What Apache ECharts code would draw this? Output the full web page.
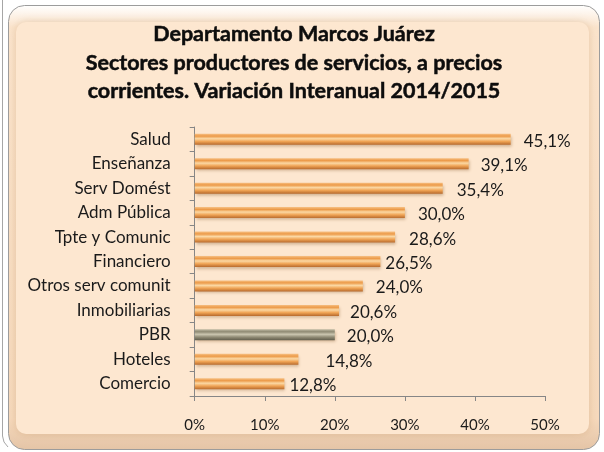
<!DOCTYPE html>
<html>
<head>
<meta charset="utf-8">
<script src="https://cdn.jsdelivr.net/npm/echarts@6/dist/echarts.min.js"></script>
<style>
html,body{margin:0;padding:0;background:#ffffff;}
#chart{width:604px;height:452px;}
</style>
</head>
<body>
<div id="chart"></div>
<script>
// ---- data ----
var titleLines = [
  'Departamento Marcos Juárez',
  'Sectores productores de servicios, a precios',
  'corrientes. Variación Interanual 2014/2015'
];
var categories = ['Salud', 'Enseñanza', 'Serv Domést', 'Adm Pública', 'Tpte y Comunic',
  'Financiero', 'Otros serv comunit', 'Inmobiliarias', 'PBR', 'Hoteles', 'Comercio'];
var values = [45.1, 39.1, 35.4, 30.0, 28.6, 26.5, 24.0, 20.6, 20.0, 14.8, 12.8];
var highlightCategory = 'PBR';
var xTicks = [0, 10, 20, 30, 40, 50];

// ---- styling (not data) ----
var labelGap = [13, 12, 14, 13, 14, 5, 13, 11, 12, 27, 5];
var FONT = 'Lato';

var orangeFill = new echarts.graphic.LinearGradient(0, 0, 0, 1, [
  {offset: 0, color: '#f7c083'},
  {offset: 0.22, color: '#ec9a48'},
  {offset: 0.45, color: '#fbd8a4'},
  {offset: 0.7, color: '#f0a455'},
  {offset: 1, color: '#b86b2e'}
]);
var greyFill = new echarts.graphic.LinearGradient(0, 0, 0, 1, [
  {offset: 0, color: '#bdb8a2'},
  {offset: 0.22, color: '#8f8a73'},
  {offset: 0.45, color: '#cbc6b0'},
  {offset: 0.7, color: '#918c76'},
  {offset: 1, color: '#5f5b4a'}
]);

var seriesData = categories.map(function (c, i) {
  return {
    value: values[i],
    itemStyle: {color: c === highlightCategory ? greyFill : orangeFill},
    label: {distance: labelGap[i]}
  };
});

var chart = echarts.init(document.getElementById('chart'), null, {renderer: 'canvas'});
chart.setOption({
  animation: false,
  backgroundColor: '#ffffff',
  graphic: [
    {type: 'polyline', z: -20, shape: {points: [[2.5, 0], [2.5, 436], [4, 442], [8, 447]]},
      style: {stroke: '#a6a6a6', lineWidth: 1, fill: null}},
    {type: 'rect', z: -20, shape: {x: 8.5, y: 5.5, width: 591, height: 444, r: 16},
      style: {
        fill: new echarts.graphic.LinearGradient(0, 0, 0, 1, [
          {offset: 0, color: '#ffffff'},
          {offset: 0.05, color: '#fbe4cc'},
          {offset: 0.93, color: '#f6d9bc'},
          {offset: 1, color: '#e4c4a6'}
        ]),
        stroke: '#9c9c9c', lineWidth: 1
      }},
    {type: 'rect', z: -19, shape: {x: 16, y: 22, width: 573, height: 412, r: 10},
      style: {fill: '#fde7d0', shadowBlur: 8, shadowColor: 'rgba(190,140,90,0.35)'}},
    {type: 'text', z: 10, x: 294, y: 20,
      style: {
        text: titleLines.join('\n'),
        font: 'bold 21.5px ' + FONT,
        fill: '#0d0d0d',
        stroke: '#0d0d0d',
        lineWidth: 0.5,
        align: 'center',
        lineHeight: 28.5
      }}
  ],
  grid: {left: 194.7, right: 59, top: 127, bottom: 56, containLabel: false},
  xAxis: {
    type: 'value',
    min: 0, max: 50, interval: 10,
    axisLine: {show: true, lineStyle: {color: '#868686'}},
    axisTick: {show: true, length: 5, lineStyle: {color: '#868686'}},
    splitLine: {show: false},
    axisLabel: {
      margin: 22, fontFamily: FONT, fontSize: 15, color: '#1a1a1a',
      formatter: function (v) { return xTicks.indexOf(v) >= 0 ? v + '%' : ''; }
    }
  },
  yAxis: {
    type: 'category',
    data: categories,
    inverse: true,
    axisLine: {show: true, lineStyle: {color: '#868686'}},
    axisTick: {show: true, length: 5, lineStyle: {color: '#868686'}},
    axisLabel: {margin: 24, fontFamily: FONT, fontSize: 17, color: '#1a1a1a'}
  },
  series: [{
    type: 'bar',
    data: seriesData,
    barWidth: 11,
    itemStyle: {shadowColor: 'rgba(120,70,20,0.35)', shadowBlur: 3, shadowOffsetY: 2, shadowOffsetX: 1},
    label: {
      show: true, position: 'right', offset: [0, 2],
      fontFamily: FONT, fontSize: 17, color: '#1a1a1a',
      formatter: function (p) { return p.value.toFixed(1).replace('.', ',') + '%'; }
    }
  }]
});
</script>
</body>
</html>
